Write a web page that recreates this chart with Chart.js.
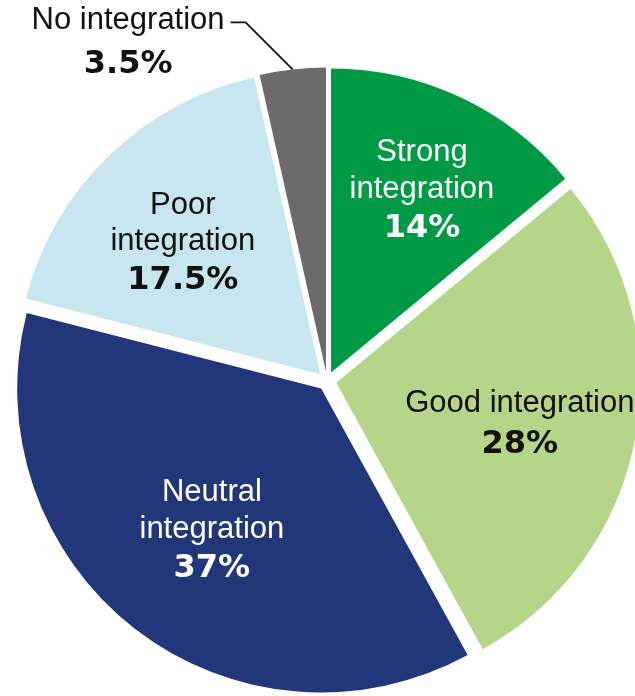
<!DOCTYPE html>
<html>
<head>
<meta charset="utf-8">
<script src="https://cdn.jsdelivr.net/npm/chart.js@4/dist/chart.umd.min.js"></script>
<style>
  html, body { margin: 0; padding: 0; background: #ffffff; }
  #wrap { width: 635px; height: 696px; overflow: hidden; }
</style>
</head>
<body>
<div id="wrap"><canvas id="c" width="635" height="696"></canvas></div>
<script>
// ---- data ----
const categories = ['Strong integration', 'Good integration', 'Neutral integration', 'Poor integration', 'No integration'];
const labelLines = [['Strong', 'integration'], ['Good integration'], ['Neutral', 'integration'], ['Poor', 'integration'], ['No integration']];
const shares = [14, 28, 37, 17.5, 3.5];
const shareLabels = ['14%', '28%', '37%', '17.5%', '3.5%'];
const sliceColors = ['#009a46', '#b5d589', '#22377a', '#c8e6ef', '#6b6b6b'];
const textColors = ['#ffffff', '#111111', '#ffffff', '#111111', '#111111'];

const REG = '31px "Liberation Sans", Arial, sans-serif';
const BOLD = 'bold 32px "DejaVu Sans", "Liberation Sans", sans-serif';

// move each slice outward along its bisector (exploded pie)
const explode = {
  id: 'explode',
  afterDatasetUpdate(chart, args, opts) {
    const meta = chart.getDatasetMeta(args.index);
    meta.data.forEach(arc => {
      const mid = (arc.startAngle + arc.endAngle) / 2;
      arc.x += Math.cos(mid) * opts.distance;
      arc.y += Math.sin(mid) * opts.distance;
    });
  }
};

const sliceLabels = {
  id: 'sliceLabels',
  afterDatasetsDraw(chart, args, opts) {
    const ctx = chart.ctx;
    const meta = chart.getDatasetMeta(0);
    ctx.save();
    meta.data.forEach((arc, i) => {
      const mid = (arc.startAngle + arc.endAngle) / 2;
      const R = arc.outerRadius;
      const lines = labelLines[i];
      ctx.fillStyle = textColors[i];
      if (opts.inside[i] !== null) {
        const f = opts.inside[i];
        const a = mid + opts.turn[i] * Math.PI / 180;
        const cx = arc.x + Math.cos(a) * R * f;
        const cy = arc.y + Math.sin(a) * R * f;
        ctx.textAlign = 'center';
        ctx.textBaseline = 'alphabetic';
        if (lines.length === 2) {
          ctx.font = REG;
          ctx.fillText(lines[0], cx, cy - 27);
          ctx.fillText(lines[1], cx, cy + 9.5);
          ctx.font = BOLD;
          ctx.fillText(shareLabels[i], cx, cy + 48.5);
        } else {
          ctx.font = REG;
          ctx.fillText(lines[0], cx, cy - 9.5);
          ctx.font = BOLD;
          ctx.fillText(shareLabels[i], cx, cy + 31.5);
        }
      } else {
        // external label with leader line
        const p0x = arc.x + Math.cos(mid) * R;
        const p0y = arc.y + Math.sin(mid) * R;
        const p1x = p0x - 47, p1y = p0y - 47;
        const p2x = p1x - 15;
        ctx.strokeStyle = '#111111';
        ctx.lineWidth = 1.8;
        ctx.beginPath();
        ctx.moveTo(p0x, p0y);
        ctx.lineTo(p1x, p1y);
        ctx.lineTo(p2x, p1y);
        ctx.stroke();
        ctx.font = REG;
        const w = ctx.measureText(lines[0]).width;
        const right = p2x - 6;
        ctx.textAlign = 'right';
        ctx.textBaseline = 'alphabetic';
        ctx.fillText(lines[0], right, p1y + 7);
        ctx.font = BOLD;
        ctx.textAlign = 'center';
        ctx.fillText(shareLabels[i], right - w / 2, p1y + 51);
      }
    });
    ctx.restore();
  }
};

new Chart(document.getElementById('c'), {
  type: 'pie',
  data: {
    labels: categories,
    datasets: [{
      data: shares,
      backgroundColor: sliceColors,
      borderWidth: 0,
      clip: false
    }]
  },
  options: {
    responsive: false,
    animation: false,
    radius: 304,
    layout: { padding: { left: 19, right: 0, top: 66, bottom: 0 } },
    plugins: {
      legend: { display: false },
      tooltip: { enabled: false },
      explode: { distance: 9.5 },
      sliceLabels: {
        inside: [0.675, 0.617, 0.584, 0.63, null],
        turn: [1.1, 1.1, 0.2, -1.8, 0]
      }
    }
  },
  plugins: [explode, sliceLabels]
});
</script>
</body>
</html>
